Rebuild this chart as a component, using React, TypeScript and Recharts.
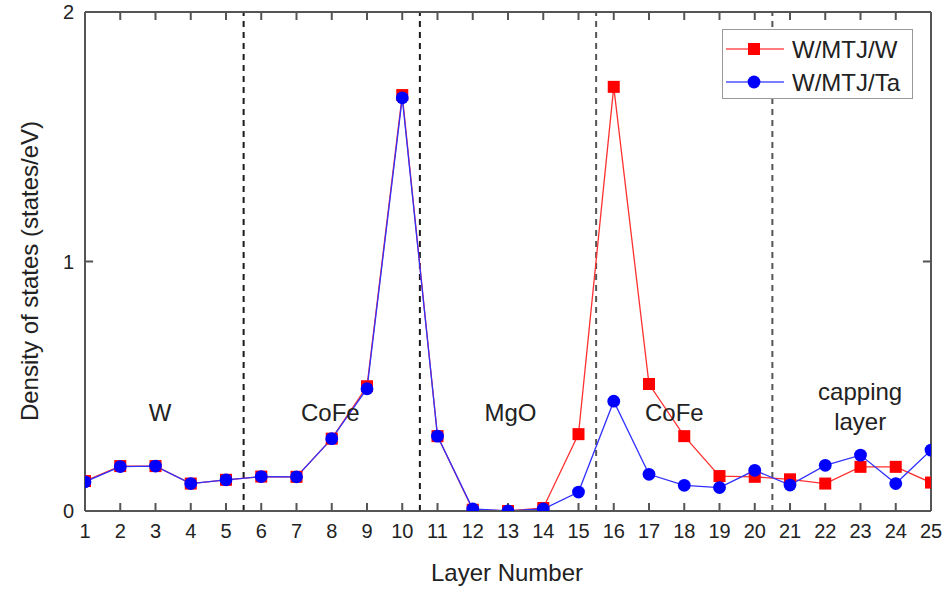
import { LineChart, Line, XAxis, YAxis, ReferenceLine, ReferenceDot } from 'recharts'

const layers = [1, 2, 3, 4, 5, 6, 7, 8, 9, 10, 11, 12, 13, 14, 15, 16, 17, 18, 19, 20, 21, 22, 23, 24, 25]
const dosWW = [0.12, 0.18, 0.18, 0.11, 0.125, 0.138, 0.137, 0.29, 0.5, 1.667, 0.3, 0.005, 0, 0.012, 0.308, 1.7, 0.509, 0.3, 0.14, 0.137, 0.127, 0.11, 0.177, 0.177, 0.114]
const dosWTa = [0.117, 0.178, 0.18, 0.11, 0.125, 0.138, 0.137, 0.29, 0.49, 1.656, 0.3, 0.008, 0, 0.008, 0.076, 0.44, 0.147, 0.103, 0.094, 0.163, 0.104, 0.183, 0.224, 0.11, 0.244]
const yTicks = [0, 1, 2]
const boundaries = [5.5, 10.5, 15.5, 20.5]
const boundaryColors = ['#1a1a1a', '#1a1a1a', '#555', '#555']
const regionLabels = [
  { x: 3.13, y: 0.395, text: 'W' },
  { x: 7.96, y: 0.395, text: 'CoFe' },
  { x: 13.07, y: 0.395, text: 'MgO' },
  { x: 17.72, y: 0.395, text: 'CoFe' },
  { x: 22.99, y: 0.48, text: 'capping' },
  { x: 22.99, y: 0.36, text: 'layer' },
]

const data = layers.map((layer, i) => ({ layer, ww: dosWW[i], wta: dosWTa[i] }))

const FONT = '"Liberation Sans", Arial, Helvetica, sans-serif'
const AXIS = '#555'
// inward tick length, in axis units (about 8px)
const TICK_X = 0.23
const TICK_Y = 0.032

const BottomTick = ({ x, y, payload }: any) => (
  <text x={x} y={y + 27} textAnchor="middle" fontSize={20} fontFamily={FONT} fill="#222">
    {payload.value}
  </text>
)

const LeftTick = ({ x, y, payload }: any) => (
  <text x={x - 11} y={y + 7} textAnchor="end" fontSize={20} fontFamily={FONT} fill="#222">
    {payload.value}
  </text>
)

const SquareDot = (p: any) => (
  <rect key={`sq-${p.index}`} x={p.cx - 6} y={p.cy - 6} width={12} height={12} fill="#ff0000" />
)

const CircleDot = (p: any) => <circle key={`ci-${p.index}`} cx={p.cx} cy={p.cy} r={6.4} fill="#0000ff" />

const LegendBox = () => (
  <div
    style={{
      position: 'absolute',
      left: 722,
      top: 29,
      width: 189,
      height: 68,
      border: '1px solid #999',
      background: '#fff',
    }}
  >
    <svg width={189} height={68} style={{ position: 'absolute', left: 0, top: 0 }}>
      <line x1={3} y1={19} x2={61} y2={19} stroke="#ff5050" strokeWidth={1.3} />
      <rect x={25} y={13} width={12} height={12} fill="#ff0000" />
      <text x={69} y={27.5} fontSize={24} fontFamily={FONT} fill="#222">W/MTJ/W</text>
      <line x1={3} y1={52} x2={61} y2={52} stroke="#5050ff" strokeWidth={1.3} />
      <circle cx={31} cy={52} r={6.4} fill="#0000ff" />
      <text x={69} y={60.5} fontSize={24} fontFamily={FONT} fill="#222">W/MTJ/Ta</text>
    </svg>
  </div>
)

const axisProps = {
  tickSize: 0,
  tickMargin: 0,
  tickLine: false,
  axisLine: { stroke: AXIS, strokeWidth: 2 },
  interval: 0 as const,
}

const tickSegs = [
  ...layers.flatMap((t) => [
    [{ x: t, y: 0 }, { x: t, y: TICK_Y }],
    [{ x: t, y: 2 }, { x: t, y: 2 - TICK_Y }],
  ]),
  ...yTicks.flatMap((v) => [
    [{ x: 1, y: v }, { x: 1 + TICK_X, y: v }],
    [{ x: 25, y: v }, { x: 25 - TICK_X, y: v }],
  ]),
]

export default function App() {
  return (
    <div style={{ position: 'absolute', left: 0, top: 0, width: 950, height: 593, background: '#fff' }}>
      <LineChart width={950} height={593} data={data} margin={{ top: 11, right: 18, bottom: 81, left: 84 }}>
        <XAxis
          dataKey="layer"
          type="number"
          domain={[1, 25]}
          ticks={layers}
          allowDataOverflow
          height={1}
          tick={<BottomTick />}
          {...axisProps}
        />
        <XAxis
          xAxisId="top"
          orientation="top"
          dataKey="layer"
          type="number"
          domain={[1, 25]}
          ticks={layers}
          height={1}
          tick={false}
          {...axisProps}
        />
        <YAxis
          type="number"
          domain={[0, 2]}
          ticks={yTicks}
          allowDataOverflow
          width={1}
          tick={<LeftTick />}
          {...axisProps}
        />
        <YAxis
          yAxisId="right"
          orientation="right"
          type="number"
          domain={[0, 2]}
          ticks={yTicks}
          width={1}
          tick={false}
          {...axisProps}
        />
        {tickSegs.map((seg, i) => (
          <ReferenceLine key={`t${i}`} segment={seg} stroke={AXIS} strokeWidth={2} ifOverflow="visible" />
        ))}
        {boundaries.map((b, i) => (
          <ReferenceLine key={b} x={b} stroke={boundaryColors[i]} strokeWidth={2} strokeDasharray="6 5" />
        ))}
        {regionLabels.map((r, i) => (
          <ReferenceDot
            key={i}
            x={r.x}
            y={r.y}
            r={0}
            shape={(p: any) => (
              <text x={p.cx} y={p.cy} textAnchor="middle" dominantBaseline="central" fontSize={24} fontFamily={FONT} fill="#222">
                {r.text}
              </text>
            )}
          />
        ))}
        <Line
          dataKey="ww"
          name="W/MTJ/W"
          stroke="#ff3030"
          strokeWidth={1.3}
          dot={SquareDot}
          activeDot={false}
          isAnimationActive={false}
        />
        <Line
          dataKey="wta"
          name="W/MTJ/Ta"
          stroke="#3030ff"
          strokeWidth={1.3}
          dot={CircleDot}
          activeDot={false}
          isAnimationActive={false}
        />
      </LineChart>
      <LegendBox />
      <div
        style={{
          position: 'absolute',
          left: 0,
          top: 558,
          width: 1014,
          textAlign: 'center',
          fontSize: 24,
          fontFamily: FONT,
          color: '#222',
          lineHeight: '30px',
        }}
      >
        Layer Number
      </div>
      <div
        style={{
          position: 'absolute',
          left: 30,
          top: 271,
          transform: 'translate(-50%, -50%) rotate(-90deg)',
          whiteSpace: 'nowrap',
          fontSize: 24,
          fontFamily: FONT,
          color: '#222',
          lineHeight: '30px',
        }}
      >
        Density of states (states/eV)
      </div>
    </div>
  )
}
